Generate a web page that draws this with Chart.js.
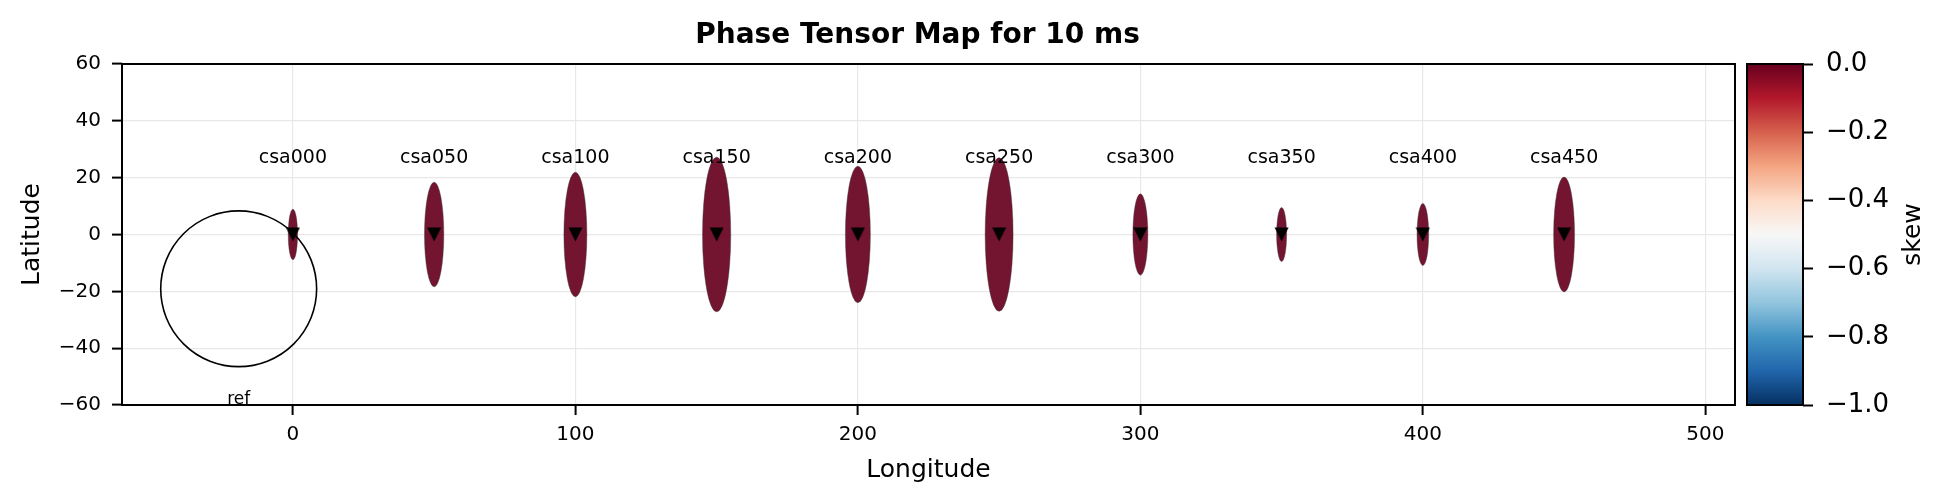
<!DOCTYPE html>
<html>
<head>
<meta charset="utf-8">
<title>Phase Tensor Map for 10 ms</title>
<script src="https://cdn.jsdelivr.net/npm/chart.js@4.4.1/dist/chart.umd.min.js"></script>
<style>
  html, body { margin: 0; padding: 0; background: #fff; }
  canvas { display: block; }
</style>
</head>
<body>
<canvas id="map" width="1949" height="500"></canvas>
<script>
// station data
const stations = ['csa000', 'csa050', 'csa100', 'csa150', 'csa200', 'csa250', 'csa300', 'csa350', 'csa400', 'csa450'];
const lon = [0, 50, 100, 150, 200, 250, 300, 350, 400, 450];
const lat = [0, 0, 0, 0, 0, 0, 0, 0, 0, 0];
// ellipse half axes, in data units (major is along latitude)
const phiMax = [8.9, 18.4, 21.9, 27.2, 24.0, 27.0, 14.3, 9.5, 10.9, 20.2];
const phiMin = [1.65, 3.42, 4.07, 5.0, 4.42, 4.95, 2.65, 1.77, 2.06, 3.7];
const skew = [0, 0, 0, 0, 0, 0, 0, 0, 0, 0];
const labelLat = 25;

// reference circle
const refCenter = [-19.2, -19.1];
const refRadius = [27.6, 27.4];
const refLabelLat = -60;

// axis ticks
const xTicks = [0, 100, 200, 300, 400, 500];
const yTicks = [-60, -40, -20, 0, 20, 40, 60];
const cbTicks = [-1.0, -0.8, -0.6, -0.4, -0.2, 0.0];

// RdBu_r colour map, from -1 (bottom) to 0 (top)
const rdbuR = ['#053061', '#2166ac', '#4393c3', '#92c5de', '#d1e5f0', '#f7f7f7',
               '#fddbc7', '#f4a582', '#d6604d', '#b2182b', '#67001f'];

function hexRgb(h) {
  return [parseInt(h.slice(1, 3), 16), parseInt(h.slice(3, 5), 16), parseInt(h.slice(5, 7), 16)];
}
function cmap(v, alpha) {
  let t = Math.min(Math.max(v + 1, 0), 1) * (rdbuR.length - 1);
  const i = Math.min(Math.floor(t), rdbuR.length - 2);
  const f = t - i;
  const a = hexRgb(rdbuR[i]), b = hexRgb(rdbuR[i + 1]);
  const c = a.map((k, j) => Math.round(k + (b[j] - k) * f));
  return 'rgba(' + c.join(',') + ',' + alpha + ')';
}
function minusFmt(v, dec) {
  const s = dec ? Math.abs(v).toFixed(dec) : String(Math.abs(v));
  return (v < 0 ? '\u2212' : '') + s;
}

// downward triangle marker
const tri = document.createElement('canvas');
tri.width = 15; tri.height = 15;
(function () {
  const t = tri.getContext('2d');
  t.fillStyle = '#000';
  t.beginPath();
  t.moveTo(0.5, 0.5); t.lineTo(14.5, 0.5); t.lineTo(7.5, 14.5);
  t.closePath();
  t.fill();
})();

const FONT = 'DejaVu Sans';
Chart.defaults.font.family = FONT;
Chart.defaults.color = '#000';

const CB_GAP = 12, CB_WIDTH = 56;

const tensorPlugin = {
  id: 'tensorPlugin',
  afterLayout(chart) {
    // move the colour bar axis to the right of the bar
    const cb = chart.scales.cb;
    const shift = chart.chartArea.right + CB_GAP + CB_WIDTH - cb.left;
    cb.left += shift;
    cb.right += shift;
  },
  beforeDatasetsDraw(chart) {
    const {ctx, chartArea, scales: {x, y}} = chart;
    ctx.save();
    ctx.beginPath();
    ctx.rect(chartArea.left, chartArea.top, chartArea.right - chartArea.left, chartArea.bottom - chartArea.top);
    ctx.clip();
    for (let i = 0; i < lon.length; i++) {
      const cx = x.getPixelForValue(lon[i]);
      const cy = y.getPixelForValue(lat[i]);
      const rx = x.getPixelForValue(lon[i] + phiMin[i]) - cx;
      const ry = cy - y.getPixelForValue(lat[i] + phiMax[i]);
      ctx.beginPath();
      ctx.ellipse(cx, cy, rx, ry, 0, 0, Math.PI * 2);
      ctx.fillStyle = cmap(skew[i], 0.92);
      ctx.fill();
      ctx.lineWidth = 0.6;
      ctx.strokeStyle = 'rgba(60,60,60,0.7)';
      ctx.stroke();
    }
    // reference circle
    const rcx = x.getPixelForValue(refCenter[0]);
    const rcy = y.getPixelForValue(refCenter[1]);
    ctx.beginPath();
    ctx.ellipse(rcx, rcy, x.getPixelForValue(refCenter[0] + refRadius[0]) - rcx,
      rcy - y.getPixelForValue(refCenter[1] + refRadius[1]), 0, 0, Math.PI * 2);
    ctx.lineWidth = 1.6;
    ctx.strokeStyle = '#000';
    ctx.stroke();
    ctx.restore();
  },
  afterDatasetsDraw(chart) {
    const {ctx, chartArea, scales: {x, y}} = chart;
    ctx.save();
    ctx.fillStyle = '#000';
    ctx.textAlign = 'center';
    ctx.textBaseline = 'alphabetic';
    ctx.font = '19px "' + FONT + '"';
    stations.forEach((s, i) => {
      ctx.fillText(s, x.getPixelForValue(lon[i]), y.getPixelForValue(labelLat));
    });
    ctx.font = '17px "' + FONT + '"';
    ctx.fillText('ref', x.getPixelForValue(refCenter[0]), y.getPixelForValue(refLabelLat) - 1);
    // axes frame
    ctx.lineWidth = 2;
    ctx.strokeStyle = '#000';
    ctx.strokeRect(chartArea.left, chartArea.top, chartArea.right - chartArea.left, chartArea.bottom - chartArea.top);
    ctx.restore();
  },
  afterDraw(chart) {
    const {ctx} = chart;
    const cb = chart.scales.cb;
    const top = cb.getPixelForValue(0);
    const bottom = cb.getPixelForValue(-1);
    const left = cb.left - CB_WIDTH;
    ctx.save();
    const g = ctx.createLinearGradient(0, bottom, 0, top);
    rdbuR.forEach((c, i) => g.addColorStop(i / (rdbuR.length - 1), c));
    ctx.fillStyle = g;
    ctx.fillRect(left, top, CB_WIDTH, bottom - top);
    ctx.lineWidth = 2;
    ctx.strokeStyle = '#000';
    ctx.strokeRect(left, top, CB_WIDTH, bottom - top);
    // colour bar label
    ctx.translate(1913, (top + bottom) / 2);
    ctx.rotate(-Math.PI / 2);
    ctx.font = '25px "' + FONT + '"';
    ctx.fillStyle = '#000';
    ctx.textAlign = 'center';
    ctx.textBaseline = 'middle';
    ctx.fillText('skew', 0, 0);
    ctx.restore();
  }
};

const ctx = document.getElementById('map').getContext('2d');
const chart = new Chart(ctx, {
  type: 'scatter',
  data: {
    datasets: [{
      label: 'stations',
      data: lon.map((v, i) => ({x: v, y: lat[i]})),
      pointStyle: tri,
      pointRadius: 7,
      showLine: false
    }]
  },
  options: {
    responsive: false,
    devicePixelRatio: 1,
    animation: false,
    events: [],
    layout: { padding: { left: 0, right: 114, top: 0, bottom: 0 } },
    plugins: {
      legend: { display: false },
      tooltip: { enabled: false },
      title: {
        display: true,
        text: 'Phase Tensor Map for 10 ms',
        color: '#000',
        font: { family: FONT, size: 28, weight: 'bold' },
        padding: { top: 19, bottom: 11.4 }
      }
    },
    scales: {
      x: {
        type: 'linear',
        position: 'bottom',
        min: -60.5,
        max: 510.5,
        afterBuildTicks: s => { s.ticks = xTicks.map(v => ({value: v})); },
        afterFit: s => { s.height = 95; },
        ticks: { font: { size: 20 }, color: '#000', padding: 8, maxRotation: 0, callback: v => minusFmt(v) },
        grid: { color: '#e8e8e8', lineWidth: 1.2, tickColor: '#000', tickWidth: 2, tickLength: 10 },
        border: { display: false },
        title: { display: true, text: 'Longitude', color: '#000', font: { size: 25 }, padding: { top: 0, bottom: 15 } }
      },
      y: {
        type: 'linear',
        position: 'left',
        min: -60,
        max: 60,
        afterBuildTicks: s => { s.ticks = yTicks.map(v => ({value: v})); },
        afterFit: s => { s.width = 122; },
        ticks: { font: { size: 20 }, color: '#000', padding: 11, callback: v => minusFmt(v) },
        grid: { color: '#e8e8e8', lineWidth: 1.2, tickColor: '#000', tickWidth: 2, tickLength: 10 },
        border: { display: false },
        title: { display: true, text: 'Latitude', color: '#000', font: { size: 25 }, padding: { top: 17.5, bottom: 0 } }
      },
      cb: {
        type: 'linear',
        position: 'right',
        min: -1,
        max: 0,
        afterBuildTicks: s => { s.ticks = cbTicks.map(v => ({value: v})); },
        afterFit: s => { s.width = 100; },
        ticks: { font: { size: 26 }, color: '#000', padding: 13, callback: v => minusFmt(v, 1) },
        grid: { drawOnChartArea: false, tickColor: '#000', tickWidth: 2, tickLength: 10 },
        border: { display: false }
      }
    }
  },
  plugins: [tensorPlugin]
});
</script>
</body>
</html>
